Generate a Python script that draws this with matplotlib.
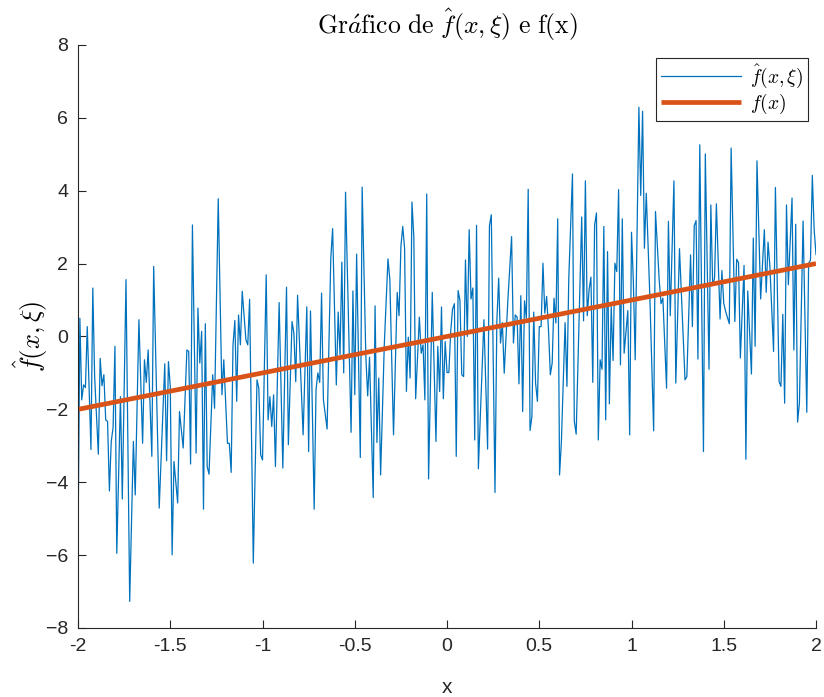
import matplotlib
matplotlib.use("Agg")
import matplotlib.pyplot as plt

# noisy samples (x, value)
x_noisy = [
    -2.00, -1.99, -1.98, -1.97, -1.96, -1.95, -1.93, -1.92, -1.91, -1.89,
    -1.88, -1.87, -1.86, -1.85, -1.84, -1.83, -1.82, -1.81, -1.80, -1.79,
    -1.77, -1.76, -1.74, -1.72, -1.70, -1.69, -1.67, -1.65, -1.64, -1.63,
    -1.62, -1.60, -1.59, -1.56, -1.53, -1.52, -1.51,
    -1.50, -1.49, -1.48, -1.46, -1.45, -1.43, -1.41, -1.40, -1.39, -1.38,
    -1.36, -1.35, -1.34, -1.33, -1.32, -1.31, -1.30, -1.29, -1.27, -1.26,
    -1.24, -1.22, -1.21, -1.19, -1.18, -1.17, -1.16, -1.15, -1.14, -1.13,
    -1.12, -1.11, -1.09, -1.08, -1.07, -1.05, -1.03, -1.02, -1.01, -1.00,
    -0.98, -0.97, -0.96, -0.95, -0.94, -0.93, -0.91, -0.89, -0.87, -0.86,
    -0.84, -0.83, -0.82, -0.81, -0.78, -0.76, -0.75, -0.74, -0.72, -0.71,
    -0.70, -0.69, -0.68, -0.67, -0.65, -0.63, -0.62, -0.60, -0.59, -0.58,
    -0.57, -0.56, -0.55, -0.52, -0.51,
    -0.50, -0.49, -0.47, -0.46, -0.44, -0.43, -0.42, -0.40, -0.39, -0.38,
    -0.37, -0.36, -0.34, -0.32, -0.31, -0.29, -0.27, -0.26, -0.25, -0.24,
    -0.23, -0.22, -0.21, -0.20, -0.19, -0.18, -0.17, -0.15, -0.14, -0.13,
    -0.12, -0.11, -0.10, -0.08, -0.06, -0.05, -0.04, -0.03, -0.02, -0.01,
    0.00, 0.01, 0.02, 0.03, 0.04, 0.05, 0.06, 0.07, 0.08, 0.09,
    0.10, 0.11, 0.12, 0.13, 0.14, 0.15, 0.16, 0.17, 0.20, 0.22,
    0.23, 0.24, 0.26, 0.27, 0.28, 0.29, 0.30, 0.31, 0.33, 0.35,
    0.36, 0.37, 0.38, 0.39, 0.40, 0.41, 0.42, 0.43, 0.44, 0.45,
    0.46, 0.47, 0.48, 0.49,
    0.50, 0.51, 0.52, 0.53, 0.54, 0.55, 0.56, 0.57, 0.58, 0.59,
    0.60, 0.61, 0.62, 0.64, 0.65, 0.66, 0.68, 0.69, 0.70, 0.73,
    0.74, 0.75, 0.76, 0.77, 0.78, 0.79, 0.80, 0.81, 0.82, 0.83,
    0.84, 0.85, 0.86, 0.87, 0.88, 0.89, 0.90, 0.91, 0.92, 0.93,
    0.94, 0.95, 0.96, 0.98, 0.99,
    1.00, 1.01, 1.02, 1.04, 1.05, 1.06, 1.07, 1.08, 1.10, 1.12,
    1.13, 1.15, 1.16, 1.17, 1.19, 1.20, 1.21, 1.23, 1.24, 1.26,
    1.29, 1.30, 1.32, 1.33, 1.34, 1.35, 1.36, 1.37, 1.39, 1.40,
    1.42, 1.43, 1.44, 1.45, 1.46, 1.48, 1.49,
    1.50, 1.51, 1.53, 1.54, 1.56, 1.57, 1.58, 1.59, 1.61, 1.62,
    1.63, 1.65, 1.66, 1.67, 1.68, 1.70, 1.72, 1.73, 1.74, 1.75,
    1.77, 1.78, 1.80, 1.81, 1.82, 1.83, 1.84, 1.85, 1.87, 1.88,
    1.89, 1.90, 1.91, 1.93, 1.95, 1.96, 1.97, 1.98, 1.99, 2.00,
]
y_noisy = [
    -5.6, 0.5, -1.74, -1.33, -1.40, 0.27, -3.10, 1.33, -1.10, -3.23,
    -0.60, -1.35, -1.05, -2.29, -2.33, -4.24, -2.88, -2.50, -0.27, -5.95,
    -1.65, -4.46, 1.56, -7.27, -2.88, -4.35, 0.46, -2.93, -0.64, -1.26,
    -0.37, -3.29, 1.92, -4.71, -0.75, -3.41, -0.69,
    -1.37, -5.99, -3.43, -4.57, -2.06, -3.06, -0.37, -0.41, -3.50, 3.06,
    -3.20, 0.78, -0.73, 0.14, -4.74, 0.35, -3.57, -3.78, -1.05, -1.97,
    3.78, -1.60, -0.64, -2.93, -2.93, -3.73, -0.23, 0.44, -1.78, 0.59,
    -0.23, 1.24, -0.09, -0.23, 1.02, -6.22, -1.19, -1.42, -3.25, -3.39,
    1.69, -2.29, -1.65, -2.47, -1.60, -3.57, 0.93, -3.61, 1.35, -2.97,
    0.41, 0.09, -1.24, 1.13, -2.70, 0.81, -3.16, 0.70, -4.74, -1.46,
    -1.00, -1.26, 1.19, -1.74, -2.54, 2.15, 2.96, -1.33, 0.67, -0.50,
    2.04, -1.00, 3.96, -2.63, 1.25,
    -1.60, 2.26, -3.32, 4.10, -0.55, -1.63, -0.57, -4.42, 0.84, -2.91,
    -1.14, -3.80, -0.23, 2.13, 1.56, -2.70, 1.21, 0.57, 2.47, 3.02,
    2.42, -1.51, -0.02, -1.14, 3.69, 2.74, -1.71, 0.53, -0.46, -0.23,
    -1.74, 3.91, -3.91, 1.21, -2.88, -0.27, -1.51, 0.81, -1.71, -0.14,
    -0.99, -0.99, 0.14, 0.75, 0.90, -3.29, 1.26, 0.99, -1.05, -1.10,
    2.10, 0.00, 2.93, 1.03, 1.33, -2.84, 3.05, -3.63, 0.46, -3.09,
    3.04, 3.34, -4.28, 0.41, 1.60, -0.18, 0.38, -1.01, 1.01, 2.74,
    -0.18, 0.59, 0.53, -1.30, 1.12, -2.06, 0.98, 0.50, 4.04, -2.58,
    -2.20, 0.67, -1.28, -1.78,
    0.27, 0.27, 2.01, 0.64, 1.10, 0.18, -1.05, -0.73, 1.05, 0.37,
    3.23, -3.80, -2.88, 0.38, -1.37, 1.60, 4.46, -2.33, -2.68, 3.28,
    0.43, 4.27, 0.57, 1.28, 1.63, -1.26, 3.06, 3.39, -2.84, -0.64,
    -0.90, 3.02, -2.29, 2.33, -1.85, 0.82, -0.66, 2.01, 1.78, 4.03,
    -0.78, 3.23, -0.46, 0.71, -2.70,
    2.86, 1.50, -0.64, 6.29, 3.87, 6.18, 2.42, 3.93, 1.00, -2.59,
    3.43, 1.55, 0.90, 1.05, -1.42, 3.16, 0.57, 4.27, -1.28, 2.41,
    -1.19, -1.10, 2.24, 0.27, 3.04, 3.18, -0.62, 5.26, -3.16, 5.01,
    -0.90, 3.61, 1.40, 1.60, 3.64, 0.48, 1.81,
    0.91, 0.69, 0.35, 5.17, 0.41, 2.12, 2.03, -0.59, 1.95, -3.37,
    1.25, -1.03, 2.70, -0.27, 4.82, 1.03, 2.93, 1.21, 2.59, 1.92,
    -0.41, 4.09, -1.24, -1.37, 0.61, -1.83, 3.61, 1.42, 3.80, -0.37,
    3.08, -2.35, -1.83, 3.17, -2.08, 2.01, 2.09, 4.42, 2.93, 2.25,
]

# exact function f(x) = x
x_exact = [-2, 2]
y_exact = [-2, 2]

x_ticks = [-2, -1.5, -1, -0.5, 0, 0.5, 1, 1.5, 2]
x_ticklabels = ["-2", "-1.5", "-1", "-0.5", "0", "0.5", "1", "1.5", "2"]
y_ticks = [-8, -6, -4, -2, 0, 2, 4, 6, 8]

plt.rcParams["mathtext.fontset"] = "cm"
plt.rcParams["font.family"] = ["Liberation Sans", "DejaVu Sans"]

fig = plt.figure(figsize=(8.24, 6.97), dpi=100)
ax = fig.add_axes([0.0947, 0.099, 0.8956, 0.8365])

ax.plot(x_noisy, y_noisy, color="#0072BD", lw=0.9, label=r"$\hat{f}(x,\xi)$")
ax.plot(x_exact, y_exact, color="#D95319", lw=3.4, label=r"$f(x)$",
        solid_capstyle="butt")

ax.set_xlim(-2, 2)
ax.set_ylim(-8, 8)
ax.set_xticks(x_ticks)
ax.set_xticklabels(x_ticklabels)
ax.set_yticks(y_ticks)

for s in ["top", "right"]:
    ax.spines[s].set_visible(False)
for s in ["left", "bottom"]:
    ax.spines[s].set_color("#262626")
    ax.spines[s].set_linewidth(0.8)
ax.tick_params(direction="in", length=6, width=0.8, colors="#262626",
               labelsize=14, pad=7)

ax.set_title(r"$\mathrm{Gr}\acute{a}\mathrm{fico\ de\ }\hat{f}(x,\xi)\mathrm{\ e\ f(x)}$",
             fontsize=18.5, pad=8)
ax.set_xlabel("x", fontsize=15, color="#262626", labelpad=17)
ax.set_ylabel(r"$\hat{f}(x,\xi)$", fontsize=19, labelpad=-3)

leg = ax.legend(loc="upper right", bbox_to_anchor=(0.995, 0.985), fontsize=14,
                fancybox=False, framealpha=1, edgecolor="#262626",
                handlelength=4.1, borderpad=0.25, labelspacing=0.1,
                handletextpad=0.5, borderaxespad=0.2)
leg.get_frame().set_linewidth(0.8)

fig.savefig("out.png", dpi=100)
